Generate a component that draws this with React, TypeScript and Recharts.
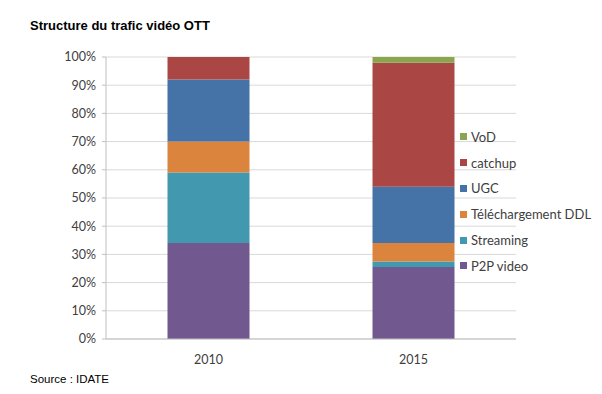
import React from "react";
import { BarChart, Bar, XAxis, YAxis, CartesianGrid, Legend } from "recharts";

const categories = ["2010", "2015"];
const p2p = [34, 25.5];
const streaming = [25, 2];
const ddl = [11, 6.5];
const ugc = [22, 20];
const catchup = [8, 44];
const vod = [0, 2];
const yTicks = [0, 10, 20, 30, 40, 50, 60, 70, 80, 90, 100];

const series = [
  { key: "p2p", name: "P2P video", values: p2p, color: "#71588F" },
  { key: "streaming", name: "Streaming", values: streaming, color: "#4198AF" },
  { key: "ddl", name: "Téléchargement DDL", values: ddl, color: "#DB843D" },
  { key: "ugc", name: "UGC", values: ugc, color: "#4572A7" },
  { key: "catchup", name: "catchup", values: catchup, color: "#AA4643" },
  { key: "vod", name: "VoD", values: vod, color: "#89A54E" },
];

const data = categories.map((c, i) => {
  const row: any = { cat: c };
  series.forEach((s) => (row[s.key] = s.values[i]));
  return row;
});

const FONT = "Lato, 'Open Sans', sans-serif";

const LegendContent = () => (
  <div style={{ fontFamily: FONT, fontSize: 13, color: "#404040", textAlign: "left" }}>
    {[...series].reverse().map((s) => (
      <div key={s.key} style={{ display: "flex", alignItems: "center", height: 25.8, whiteSpace: "nowrap" }}>
        <span style={{ display: "inline-block", width: 7, height: 7, background: s.color, marginRight: 4 }} />
        <span>{s.name}</span>
      </div>
    ))}
  </div>
);

export default function App() {
  return (
    <div style={{ position: "absolute", left: 0, top: 0, width: 602, height: 394, background: "#fff" }}>
      <div
        style={{
          position: "absolute",
          left: 30,
          top: 18,
          fontFamily: "'Liberation Sans', Arial, sans-serif",
          fontWeight: "bold",
          fontSize: 13,
          color: "#000",
          whiteSpace: "nowrap",
        }}
      >
        Structure du trafic vidéo OTT
      </div>
      <BarChart
        width={602}
        height={394}
        data={data}
        margin={{ top: 57, right: 86, bottom: 25, left: 0 }}
        barCategoryGap="30%"
      >
        <CartesianGrid horizontal vertical={false} stroke="#d9d9d9" />
        <XAxis
          dataKey="cat"
          height={30}
          stroke="#bfbfbf"
          tickLine={false}
          tick={{ fill: "#404040", fontSize: 12.5, fontFamily: FONT }}
          tickMargin={10}
        />
        <YAxis
          width={106}
          domain={[0, 100]}
          ticks={yTicks}
          interval={0}
          stroke="#bfbfbf"
          tickSize={4}
          tickFormatter={(v: number) => `${v}%`}
          tick={{ fill: "#404040", fontSize: 12.5, fontFamily: FONT }}
          tickMargin={6}
        />
        <Legend
          layout="vertical"
          verticalAlign="middle"
          align="center"
          content={<LegendContent />}
          wrapperStyle={{ left: 460, top: 124, width: 140 }}
        />
        {series.map((s) => (
          <Bar key={s.key} dataKey={s.key} name={s.name} stackId="a" fill={s.color} isAnimationActive={false} />
        ))}
      </BarChart>
      <div
        style={{
          position: "absolute",
          left: 30,
          top: 373,
          fontFamily: "'Liberation Sans', Arial, sans-serif",
          fontSize: 11.5,
          color: "#000",
          whiteSpace: "nowrap",
        }}
      >
        Source : IDATE
      </div>
    </div>
  );
}
